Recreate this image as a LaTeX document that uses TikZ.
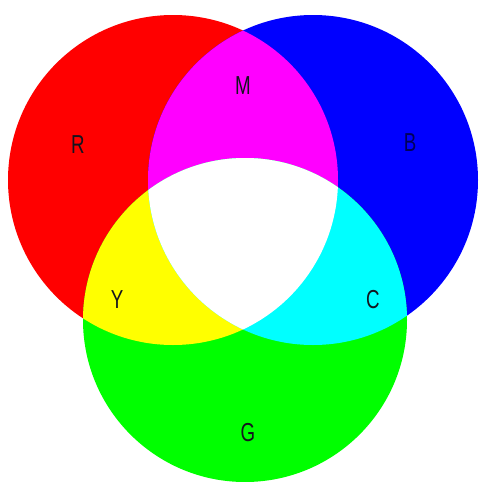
\documentclass[tikz,border=0pt]{standalone}
\usepackage{fontspec}
\setmainfont{Liberation Sans}[FakeStretch=0.72]
\usepackage{xcolor}
\definecolor{redDisc}{RGB}{255,0,0}
\definecolor{greenDisc}{RGB}{0,255,0}
\definecolor{blueDisc}{RGB}{0,0,255}
\definecolor{magentaMix}{RGB}{255,0,255}
\definecolor{yellowMix}{RGB}{255,255,0}
\definecolor{cyanMix}{RGB}{0,255,255}
\definecolor{labelInk}{RGB}{20,20,30}
% the three discs, in pixel units
\def\discR{(173,180) circle[radius=165]}
\def\discB{(313,180) circle[radius=165]}
\def\discG{(245,320) circle[radius=162]}

\begin{document}
\begin{tikzpicture}[
    x=0.5pt, y=-0.5pt,
    lbl/.style={font=\fontsize{13}{13}\selectfont, text=labelInk, inner sep=0pt}
]
\useasboundingbox (0,0) rectangle (479,482);

% primaries
\fill[redDisc] \discR;
\fill[blueDisc] \discB;
\fill[greenDisc] \discG;

% pairwise mixes
\begin{scope}
  \clip \discR;
  \fill[magentaMix] \discB;
  \fill[yellowMix] \discG;
\end{scope}
\begin{scope}
  \clip \discB;
  \fill[cyanMix] \discG;
\end{scope}
% all three
\begin{scope}
  \clip \discR;
  \clip \discB;
  \fill[white] \discG;
\end{scope}

\node[lbl] (r) at (78,145) {R};
\node[lbl] (m) at (243,86) {M};
\node[lbl, text=blueDisc!35!black] (b) at (410,143) {B};
\node[lbl] (y) at (117,300) {Y};
\node[lbl] (c) at (373,300) {C};
\node[lbl] (g) at (248,433) {G};
\end{tikzpicture}
\end{document}
